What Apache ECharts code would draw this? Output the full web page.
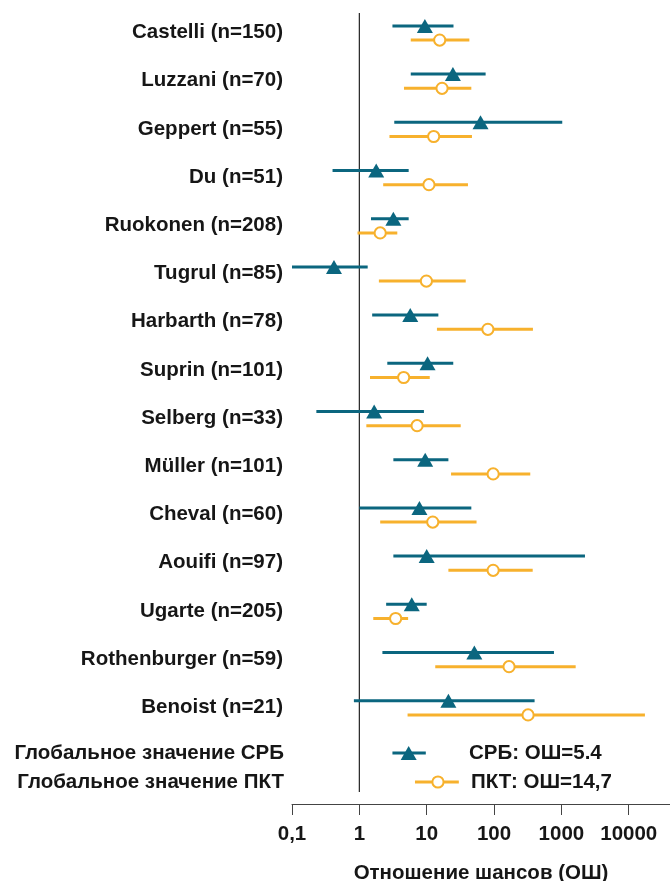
<!DOCTYPE html>
<html>
<head>
<meta charset="utf-8">
<script src="https://cdn.jsdelivr.net/npm/echarts@6/dist/echarts.min.js"></script>
<style>
  html, body { margin: 0; padding: 0; background: #ffffff; }
  #chart { width: 670px; height: 881px; }
</style>
</head>
<body>
<div id="chart"></div>
<script>
// Studies (top to bottom) with odds ratios and 95% CI for CRP (СРБ) and PCT (ПКТ)
const studies = [
  'Castelli (n=150)', 'Luzzani (n=70)', 'Geppert (n=55)', 'Du (n=51)',
  'Ruokonen (n=208)', 'Tugrul (n=85)', 'Harbarth (n=78)', 'Suprin (n=101)',
  'Selberg (n=33)', 'Müller (n=101)', 'Cheval (n=60)', 'Aouifi (n=97)',
  'Ugarte (n=205)', 'Rothenburger (n=59)', 'Benoist (n=21)'
];
const crbEst = [9.4, 24.5, 63, 1.78, 3.2, 0.42, 5.7, 10.3, 1.66, 9.5, 7.8, 10, 6.0, 51, 21];
const crbLo  = [3.1, 5.8, 3.3, 0.40, 1.49, 0.1, 1.55, 2.6, 0.23, 3.2, 1.0, 3.2, 2.5, 2.2, 0.83];
const crbHi  = [25, 75, 1030, 5.4, 5.4, 1.33, 14.9, 24.8, 9.1, 21, 46, 2240, 10, 776, 400];
const pctEst = [15.6, 16.9, 12.7, 10.8, 2.04, 9.9, 81, 4.55, 7.2, 97, 12.3, 97, 3.46, 167, 320];
const pctLo  = [5.8, 4.6, 2.8, 2.26, 0.94, 1.95, 14.2, 1.44, 1.27, 23, 2.04, 21, 1.61, 13.4, 5.2];
const pctHi  = [43, 46, 47, 41, 3.66, 38, 378, 11.1, 32, 345, 55, 375, 5.3, 1630, 17400];

// Pooled estimates
const globalLabels = ['Глобальное значение СРБ', 'Глобальное значение ПКТ'];
const globalEst = [5.4, 14.7];
const globalLo  = [3.1, 6.7];
const globalHi  = [9.7, 30];
const globalText = ['СРБ: ОШ=5.4', 'ПКТ: ОШ=14,7'];

const xTickLabels = ['0,1', '1', '10', '100', '1000', '10000'];
const xAxisTitle = 'Отношение шансов (ОШ)';

const BLUE = '#0b667f';
const ORANGE = '#f7b12d';
const FONT = 'Liberation Sans';
const FONT_SIZE = 20.5;
const TEXT = '#161616';

function rows(lo, est, hi) {
  return est.map((e, i) => [lo[i], e, hi[i], i]);
}

// Draws a horizontal CI bar with a marker at the estimate
function ciRenderer(color, marker, dy) {
  return function (params, api) {
    const row = api.value(3);
    const pLo = api.coord([api.value(0), row]);
    const pEst = api.coord([api.value(1), row]);
    const pHi = api.coord([api.value(2), row]);
    const y = pEst[1] + dy;
    const x = pEst[0];
    const bar = {
      type: 'line',
      shape: { x1: pLo[0], y1: y, x2: pHi[0], y2: y },
      style: { stroke: color, lineWidth: 3 }
    };
    const mark = marker === 'triangle'
      ? { type: 'polygon', shape: { points: [[x, y - 7], [x + 8, y + 7], [x - 8, y + 7]] },
          style: { fill: color } }
      : { type: 'circle', shape: { cx: x, cy: y, r: 5.6 },
          style: { fill: '#ffffff', stroke: color, lineWidth: 2 } };
    return { type: 'group', children: [bar, mark] };
  };
}

const logAxisBase = {
  type: 'log',
  logBase: 10,
  min: 0.1,
  max: 41000,
  splitLine: { show: false }
};

const labelStyle = { fontSize: FONT_SIZE, fontWeight: 'bold', color: TEXT, fontFamily: FONT };

const chart = echarts.init(document.getElementById('chart'), null, { renderer: 'canvas' });

chart.setOption({
  animation: false,
  backgroundColor: '#ffffff',
  textStyle: { fontFamily: FONT },
  grid: [
    { left: 292, right: 0, top: 8.5, height: 723, containLabel: false, outerBoundsMode: 'none' },
    { left: 292, right: 0, top: 738.5, height: 58, containLabel: false, outerBoundsMode: 'none' }
  ],
  xAxis: [
    Object.assign({}, logAxisBase, { gridIndex: 0, show: false }),
    Object.assign({}, logAxisBase, {
      gridIndex: 1,
      offset: 7.5,
      axisLine: { show: true, lineStyle: { color: '#444', width: 1 } },
      axisTick: { show: true, length: 11, lineStyle: { color: '#444', width: 1 } },
      axisLabel: Object.assign({
        show: true,
        margin: 20,
        showMaxLabel: false,
        formatter: function (v) {
          const k = Math.round(Math.log10(v)) + 1;
          return xTickLabels[k] !== undefined ? xTickLabels[k] : '';
        }
      }, labelStyle),
      name: xAxisTitle,
      nameLocation: 'middle',
      nameGap: 59,
      nameTextStyle: labelStyle
    })
  ],
  yAxis: [
    {
      type: 'category', gridIndex: 0, inverse: true, data: studies,
      axisLine: { show: false }, axisTick: { show: false }, splitLine: { show: false },
      axisLabel: Object.assign({ margin: 9, interval: 0 }, labelStyle)
    },
    {
      type: 'category', gridIndex: 1, inverse: true, data: globalLabels,
      axisLine: { show: false }, axisTick: { show: false }, splitLine: { show: false },
      axisLabel: Object.assign({ margin: 8, interval: 0, hideOverlap: false }, labelStyle)
    }
  ],
  series: [
    {
      // reference line at OR = 1, spanning the study rows and pooled rows
      type: 'custom', xAxisIndex: 0, yAxisIndex: 0, clip: false, z: 1,
      data: [[1, 0]],
      encode: { x: 0, y: 1 },
      renderItem: function (params, api) {
        const x = api.coord([api.value(0), 0])[0];
        return { type: 'line', shape: { x1: x, y1: 13, x2: x, y2: 792 },
                 style: { stroke: '#222', lineWidth: 1.2 } };
      }
    },
    {
      name: 'ПКТ', type: 'custom', xAxisIndex: 0, yAxisIndex: 0, z: 2,
      data: rows(pctLo, pctEst, pctHi),
      encode: { x: [0, 1, 2], y: 3 },
      renderItem: ciRenderer(ORANGE, 'circle', 7.5)
    },
    {
      name: 'СРБ', type: 'custom', xAxisIndex: 0, yAxisIndex: 0, z: 3,
      data: rows(crbLo, crbEst, crbHi),
      encode: { x: [0, 1, 2], y: 3 },
      renderItem: ciRenderer(BLUE, 'triangle', -6.7)
    },
    {
      name: 'Глобальное значение', type: 'custom', xAxisIndex: 1, yAxisIndex: 1, z: 3,
      data: rows(globalLo, globalEst, globalHi),
      encode: { x: [0, 1, 2], y: 3 },
      renderItem: function (params, api) {
        const i = params.dataIndex;
        const fn = i === 0 ? ciRenderer(BLUE, 'triangle', 0) : ciRenderer(ORANGE, 'circle', 0);
        const g = fn(params, api);
        const y = api.coord([api.value(1), api.value(3)])[1];
        g.children.push({
          type: 'text',
          style: {
            x: i === 0 ? 469 : 471, y: y, text: globalText[i],
            fill: TEXT, font: 'bold ' + FONT_SIZE + 'px "' + FONT + '"',
            textAlign: 'left', textVerticalAlign: 'middle'
          }
        });
        return g;
      }
    }
  ]
});
</script>
</body>
</html>
